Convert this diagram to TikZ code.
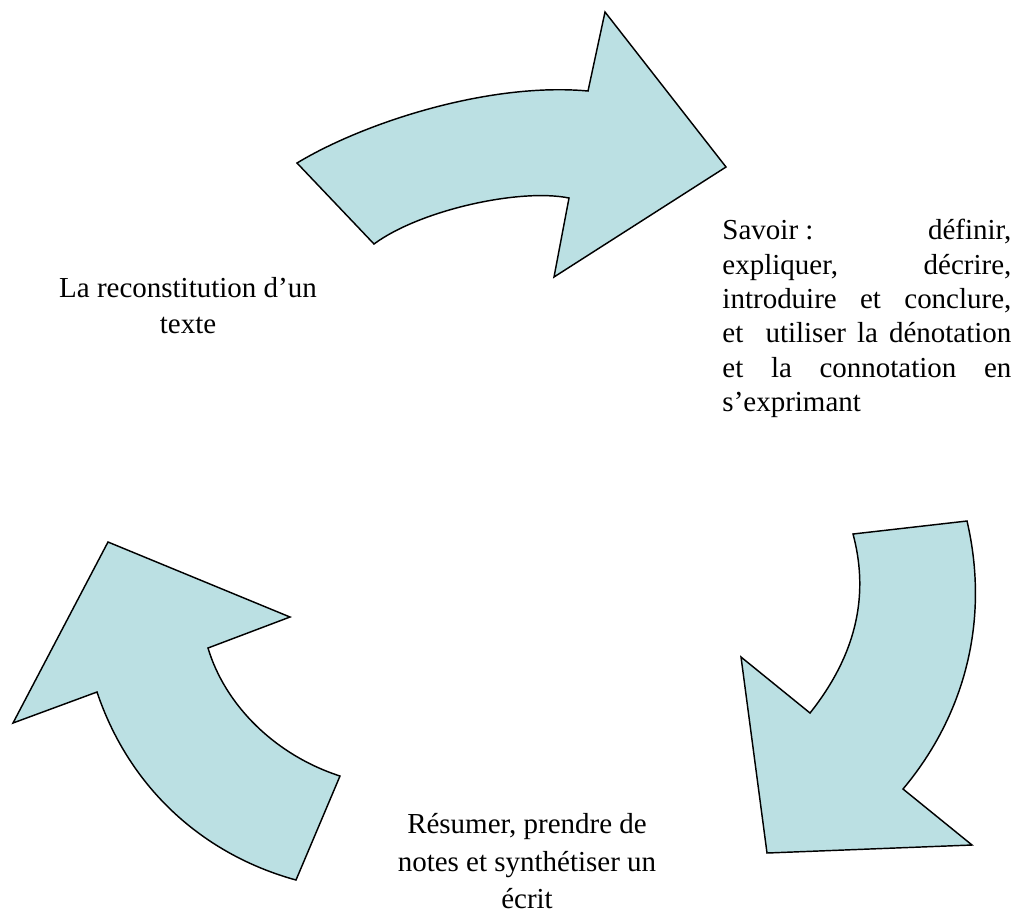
\documentclass[tikz,border=0pt]{standalone}
\usepackage{fontspec}
\setmainfont{Liberation Serif}
\usepackage{xcolor}
\definecolor{arrowblue}{HTML}{BBE0E3}
\tikzset{
  bentarrow/.style={draw=black, line width=0.6pt, fill=arrowblue, line join=miter},
  cycletext/.style={inner sep=0pt, font=\fontsize{12}{14.5}\selectfont}
}

\begin{document}
\begin{tikzpicture}[x=0.414pt, y=-0.414pt]
\useasboundingbox (0,0) rectangle (1016,912);
% Top arrow
\draw[bentarrow] (297,163) .. controls (365,122) and (490,82) .. (588,91) -- (605,12) -- (726,167)
  -- (554,277) -- (569,198) .. controls (520,188) and (420,210) .. (374,244) -- cycle;
% Right arrow
\draw[bentarrow] (967,521) .. controls (990,620) and (965,715) .. (903,789) -- (972,845) -- (767,853)
  -- (741,657) -- (810,713) .. controls (860,650) and (868,590) .. (853,534) -- cycle;
% Left arrow
\draw[bentarrow] (108,542) -- (290,617) -- (208,648) .. controls (225,705) and (275,755) .. (340,776)
  -- (296,880) .. controls (205,855) and (130,790) .. (97,692) -- (13,723) -- cycle;
% Labels
\node[cycletext, align=center, anchor=north, font=\fontsize{12}{14.9}\selectfont] (reconst) at (188,277)
  {La reconstitution d’un\\texte};
\node[cycletext, text width=119.6pt, align=justify, anchor=north west, font=\fontsize{12}{14.2}\selectfont] (savoir) at (722,219)
  {\mbox{Savoir :} définir,\linebreak expliquer, décrire,\linebreak introduire et conclure,\linebreak
   et\ \ utiliser la dénotation\linebreak et la connotation en\linebreak s’exprimant};
\node[cycletext, align=center, anchor=north, font=\fontsize{12}{15.5}\selectfont] (resumer) at (527,813)
  {Résumer, prendre de\\notes et synthétiser un\\écrit};
\end{tikzpicture}
\end{document}
